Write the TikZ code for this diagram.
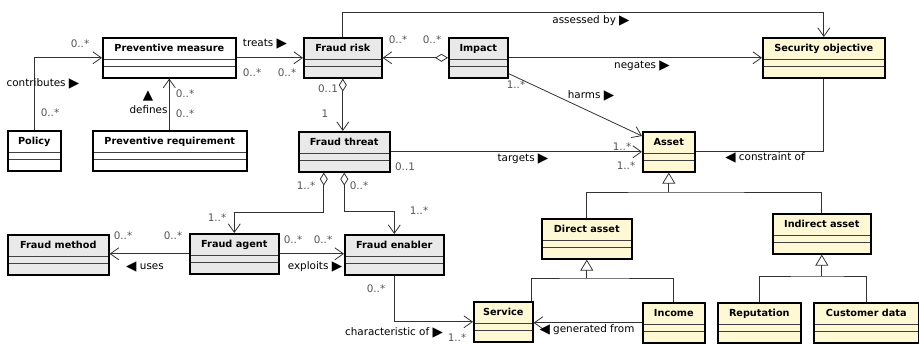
\documentclass[tikz,border=0pt]{standalone}
\usepackage{fontspec}
\setmainfont{DejaVu Sans}
\usetikzlibrary{arrows.meta}

\definecolor{riskfill}{RGB}{233,233,233}
\definecolor{assetfill}{RGB}{255,248,212}
\definecolor{linecol}{RGB}{50,50,50}
\definecolor{multcol}{RGB}{85,85,85}

% reading-direction markers next to association names
\newcommand\dirright{{\fontsize{13.5}{12}\selectfont\raisebox{-0.6pt}{▶}}}
\newcommand\dirleft{{\fontsize{13.5}{12}\selectfont\raisebox{-0.6pt}{◀}}}
\newcommand\dirup{{\fontsize{13.5}{12}\selectfont ▲}}

\tikzset{
  cls/.style={draw=black, line width=1.6pt, rectangle, inner sep=0pt,
    anchor=north west, text height=14.2pt, text depth=25.8pt,
    font=\fontsize{9.7}{11}\selectfont\bfseries,
    path picture={
      \draw[line width=0.7pt, black!75]
        ([yshift=-21.5pt]path picture bounding box.north west) --
        ([yshift=-21.5pt]path picture bounding box.north east)
        ([yshift=-29pt]path picture bounding box.north west) --
        ([yshift=-29pt]path picture bounding box.north east);}},
  risk/.style={cls, fill=riskfill},
  assetcls/.style={cls, fill=assetfill},
  assoc/.style={draw=linecol, line width=0.8pt},
  nav/.style={assoc, -{Straight Barb[length=8.5pt,width=12pt]}},
  aggr/.style={assoc, {Diamond[open,length=13pt,width=8pt]}-{Straight Barb[length=8.5pt,width=12pt]}},
  gen/.style={assoc, -{Triangle[open,length=11pt,width=13pt]}},
  lbl/.style={font=\fontsize{10.4}{12}\selectfont, inner sep=0pt,
    text height=7.5pt, text depth=2pt, text=black},
  mult/.style={lbl, text=multcol},
}

\begin{document}
\begin{tikzpicture}[x=1pt,y=-1pt]
\useasboundingbox (0,0) rectangle (919,344);

% ---- classes ----
\node[cls, fill=white, minimum width=133pt] (pm) at (102,37) {Preventive measure};
\node[cls, fill=white, minimum width=53pt] (policy) at (7,130) {Policy};
\node[cls, fill=white, minimum width=154pt] (pr) at (92,130) {Preventive requirement};
\node[risk, minimum width=78pt] (fr) at (303,37) {Fraud risk};
\node[risk, minimum width=59pt] (impact) at (448,37) {Impact};
\node[assetcls, minimum width=122pt] (so) at (762,37) {Security objective};
\node[risk, minimum width=91pt] (ft) at (298,131) {Fraud threat};
\node[assetcls, minimum width=52pt] (asset) at (642,131) {Asset};
\node[risk, minimum width=101pt] (fm) at (7,234) {Fraud method};
\node[risk, minimum width=89pt] (fa) at (189,233) {Fraud agent};
\node[risk, minimum width=99pt] (fe) at (344,234) {Fraud enabler};
\node[assetcls, minimum width=90pt] (da) at (541,218) {Direct asset};
\node[assetcls, minimum width=98pt] (ia) at (772,213) {Indirect asset};
\node[assetcls, minimum width=59pt] (service) at (473,301) {Service};
\node[assetcls, minimum width=62pt] (income) at (642,302) {Income};
\node[assetcls, minimum width=83pt] (rep) at (717,302) {Reputation};
\node[assetcls, minimum width=105pt] (cust) at (813,302) {Customer data};

% ---- associations ----
\draw[nav] (policy.north) |- (pm.west);
\draw[nav] (pr.north -| pm.south) -- (pm.south);
\draw[nav] (pm.east) -- (fr.west);
\draw[nav] (fr.north) -- ++(0,-25) -| (so.north);
\draw[aggr] (impact.west) -- (fr.east);
\draw[nav] (impact.east) -- (so.west);
\draw[nav] ([yshift=5pt]impact.south east) -- ([yshift=-5pt]asset.north west);
\draw[aggr] (fr.south) -- (fr.south |- ft.north);
\draw[nav] (ft.east) -- (asset.west);
\draw[assoc] (asset.east) -| (so.south);
\draw[aggr] ([xshift=-20.5pt]ft.south) -- ++(0,40) -| (fa.north);
\draw[aggr] (ft.south) -- ++(0,39) -| (fe.north);
\draw[nav] (fa.west) -- (fa.west -| fm.east);
\draw[nav] (fa.east) -- (fa.east -| fe.west);
\draw[nav] (fe.south) |- (service.west);
\draw[nav] (income.west) -- (income.west -| service.east);

% ---- generalisations ----
\coordinate (jda) at (da.south |- 0,278);
\coordinate (jas) at (asset.south |- 0,192);
\coordinate (jia) at (ia.south |- 0,276);
\draw[assoc] ([xshift=-2pt]service.north east) |- (jda) -| (income.north);
\draw[gen] (jda) -- (da.south);
\draw[assoc] (da.north) |- (jas) -| (ia.north);
\draw[gen] (jas) -- (asset.south);
\draw[assoc] (rep.north) |- (jia) -| (cust.north);
\draw[gen] (jia) -- (ia.south);

% ---- association names ----
\node[lbl] (lcontrib) at (43,84) {contributes \dirright};
\node[lbl] (ldefup) at (148,97) {\dirup};
\node[lbl] (ldefines) at (148.5,111) {defines};
\node[lbl] (ltreats) at (265,44) {treats \dirright};
\node[lbl] (lassessed) at (591,21) {assessed by \dirright};
\node[lbl] (lnegates) at (642,66) {negates \dirright};
\node[lbl] (lharms) at (591,96) {harms \dirright};
\node[lbl] (ltargets) at (523,159) {targets \dirright};
\node[lbl] (lconstr) at (765,158) {\dirleft\ constraint of};
\node[lbl] (luses) at (145,267) {\dirleft\ uses};
\node[lbl] (lexploits) at (315,267) {exploits \dirright};
\node[lbl] (lcharac) at (394,333) {characteristic of \dirright};
\node[lbl] (lgenfrom) at (587,330) {\dirleft\ generated from};

% ---- multiplicities ----
\node[mult] (m1) at (80,45) {0..*};
\node[mult] (m2) at (50,114) {0..*};
\node[mult] (m3) at (185,95) {0..*};
\node[mult] (m4) at (185,115) {0..*};
\node[mult] (m5) at (252,74) {0..*};
\node[mult] (m6) at (287,74) {0..*};
\node[mult] (m7) at (398,41) {0..*};
\node[mult] (m8) at (432,41) {0..*};
\node[mult] (m9) at (516,86) {1..*};
\node[mult] (m10) at (328,90) {0..1};
\node[mult] (m11) at (325,115) {1};
\node[mult] (m12) at (405,168) {0..1};
\node[mult] (m13) at (622,148) {1..*};
\node[mult] (m14) at (626,167) {1..*};
\node[mult] (m15) at (306,187) {1..*};
\node[mult] (m16) at (359,187) {0..*};
\node[mult] (m17) at (217,219) {1..*};
\node[mult] (m18) at (419,212) {1..*};
\node[mult] (m19) at (123,237) {0..*};
\node[mult] (m20) at (173,237) {0..*};
\node[mult] (m21) at (293,241) {0..*};
\node[mult] (m22) at (323,241) {0..*};
\node[mult] (m23) at (376,290) {0..*};
\node[mult] (m24) at (457,339) {1..*};
\end{tikzpicture}
\end{document}
